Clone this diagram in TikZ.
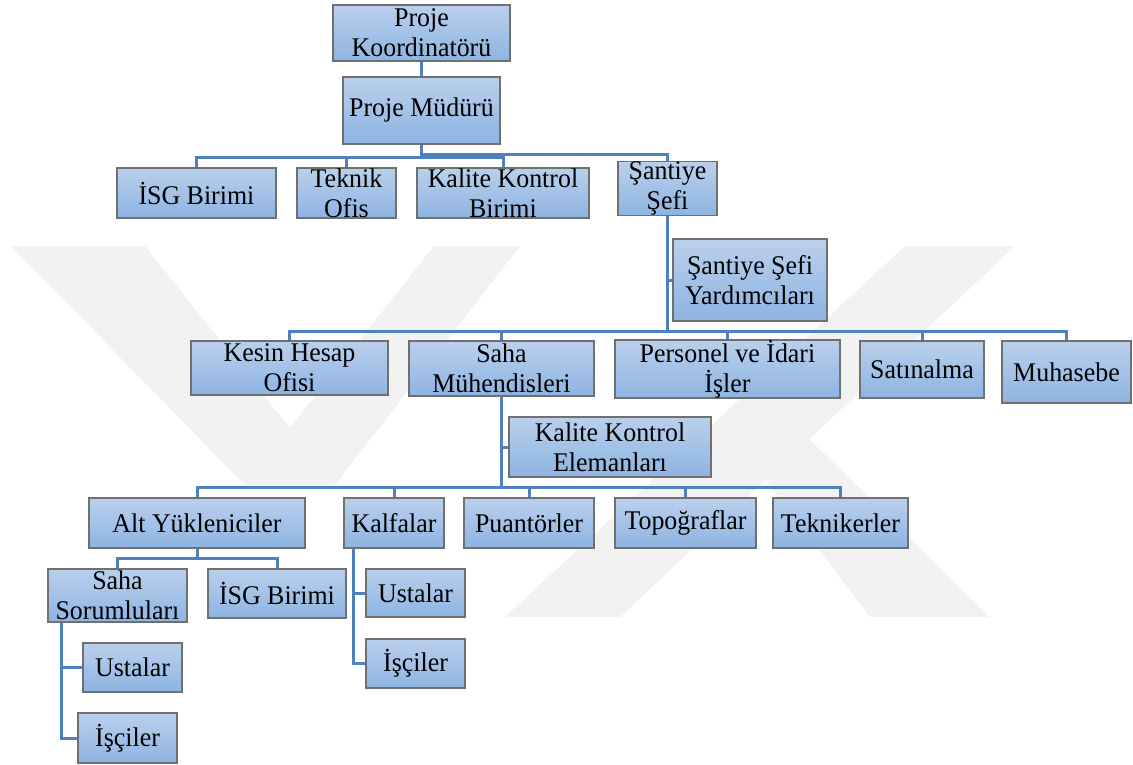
\documentclass[tikz,border=0pt]{standalone}
\usepackage{fontspec}
\setmainfont{Liberation Serif}[FakeStretch=0.96]
\pgfdeclarelayer{wm}
\pgfdeclarelayer{bg}
\pgfsetlayers{wm,bg,main}
\definecolor{boxtop}{RGB}{186,208,236}
\definecolor{boxbot}{RGB}{141,180,226}
\definecolor{boxline}{RGB}{112,112,112}
\definecolor{linkblue}{RGB}{79,129,189}
\definecolor{wmgray}{RGB}{242,242,242}
\tikzset{
    unit/.style={rectangle, draw=boxline, line width=1.4pt, top color=boxtop, bottom color=boxbot,
        inner sep=0pt, align=center, font=\fontsize{27}{30}\selectfont},
    sz/.style 2 args={minimum width=#1, minimum height=#2},
    link/.style={draw=linkblue, line width=3pt}
}

\begin{document}
\begin{tikzpicture}[x=1pt, y=-1pt]
    \useasboundingbox (0,0) rectangle (1133,764);

    % top levels
    \node (koord) [unit, sz={177pt}{56pt}] at (421.5, 33) {Proje\\Koordinatörü};
    \node (mudur) [unit, sz={157pt}{67pt}] at (421.5, 110.5) {Proje Müdürü};
    \node (isg) [unit, sz={159pt}{50pt}] at (196.5, 193) {İSG Birimi};
    \node (teknik) [unit, sz={99pt}{50pt}] at (346.5, 193) {Teknik\\Ofis};
    \node (kalite) [unit, sz={172pt}{50pt}] at (503, 193) {Kalite Kontrol\\Birimi};
    \node (sefi) [unit, sz={99pt}{49pt}] at (667.5, 188.5) {Şantiye\\Şefi};
    \node (yard) [unit, sz={154pt}{82pt}] at (750, 280) {Şantiye Şefi\\Yardımcıları};

    % under the site chief
    \node (kesin) [unit, sz={197pt}{54pt}] at (289.5, 368) {Kesin Hesap\\Ofisi};
    \node (sahamuh) [unit, sz={185pt}{55pt}] at (501.5, 368.5) {Saha\\Mühendisleri};
    \node (personel) [unit, sz={225pt}{56pt}] at (727.5, 369) {Personel ve İdari\\İşler};
    \node (satin) [unit, sz={124pt}{57pt}] at (922, 369.5) {Satınalma};
    \node (muhasebe) [unit, sz={129pt}{62pt}] at (1066.5, 372) {Muhasebe};
    \node (kke) [unit, sz={202pt}{60pt}] at (610, 447) {Kalite Kontrol\\Elemanları};

    % under the site engineers
    \node (alt) [unit, sz={216pt}{50pt}] at (197, 523) {Alt Yükleniciler};
    \node (kalfa) [unit, sz={100pt}{50pt}] at (394, 523) {Kalfalar};
    \node (puan) [unit, sz={130pt}{50pt}] at (529, 523) {Puantörler};
    \node (topo) [unit, sz={141pt}{50pt}] at (685.5, 523) {Topoğraflar};
    \node (tekn) [unit, sz={135pt}{50pt}] at (840.5, 523) {Teknikerler};

    \node (sahasor) [unit, sz={139pt}{53pt}] at (117.5, 595.5) {Saha\\Sorumluları};
    \node (isgalt) [unit, sz={138pt}{49pt}] at (277, 593.5) {İSG Birimi};
    \node (ustaK) [unit, sz={99pt}{48pt}] at (415.5, 593) {Ustalar};
    \node (isciK) [unit, sz={99pt}{49pt}] at (415.5, 663.5) {İşçiler};
    \node (ustaS) [unit, sz={99pt}{49pt}] at (132.5, 667.5) {Ustalar};
    \node (isciS) [unit, sz={99pt}{50pt}] at (127.5, 738) {İşçiler};

    \coordinate (b1) at (421.5, 157);
    \coordinate (b1r) at (421.5, 154);
    \coordinate (b2) at (667.5, 331);
    \coordinate (b3) at (501.5, 487);
    \coordinate (b4) at (197, 558);
    \coordinate (k1) at ([xshift=10pt]kalfa.south west);
    \coordinate (s1) at ([xshift=14pt]sahasor.south west);

    \begin{pgfonlayer}{wm}
        \fill[wmgray] (11,246) -- (145,246) -- (335,485) -- (245,485) -- cycle;
        \fill[wmgray] (434,246) -- (520,246) -- (335,485) -- (245,485) -- cycle;
        \fill[wmgray] (905,246) -- (1015,246) -- (620,617) -- (505,617) -- cycle;
        \fill[wmgray] (720,420) -- (790,420) -- (990,617) -- (870,617) -- cycle;
    \end{pgfonlayer}

    \begin{pgfonlayer}{bg}
        \draw[link] (koord) -- (mudur);
        \draw[link] (mudur.south) -- (b1);
        \draw[link] (isg.north) |- (b1);
        \draw[link] (teknik.north) |- (b1);
        \draw[link] (kalite.north) |- (b1);
        \draw[link] (sefi.north) |- (b1r);

        \draw[link] (sefi.south) -- (b2);
        \draw[link] (yard.west) -- (yard.west -| b2);
        \draw[link] (kesin.north) |- (b2);
        \draw[link] (sahamuh.north) |- (b2);
        \draw[link] (personel.north) |- (b2);
        \draw[link] (satin.north) |- (b2);
        \draw[link] (muhasebe.north) |- (b2);

        \draw[link] (sahamuh.south) -- (b3);
        \draw[link] (kke.west) -- (kke.west -| b3);
        \draw[link] (alt.north) |- (b3);
        \draw[link] (kalfa.north) |- (b3);
        \draw[link] (puan.north) |- (b3);
        \draw[link] (topo.north) |- (b3);
        \draw[link] (tekn.north) |- (b3);

        \draw[link] (alt.south) -- (b4);
        \draw[link] (sahasor.north) |- (b4);
        \draw[link] (isgalt.north) |- (b4);
        \draw[link] (k1) |- (ustaK.west);
        \draw[link] (k1) |- (isciK.west);
        \draw[link] (s1) |- (ustaS.west);
        \draw[link] (s1) |- (isciS.west);
    \end{pgfonlayer}
\end{tikzpicture}
\end{document}
